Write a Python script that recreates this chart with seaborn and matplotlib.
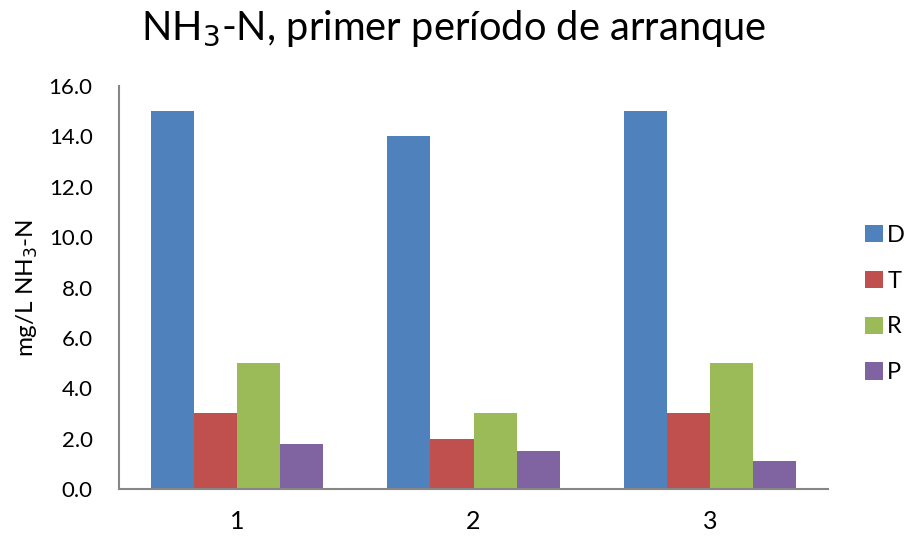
import matplotlib
matplotlib.use("Agg")
import matplotlib.pyplot as plt
import seaborn as sns
import pandas as pd

periods = ["1", "2", "3"]
series = ["D", "T", "R", "P"]
values_D = [15.0, 14.0, 15.0]
values_T = [3.0, 2.0, 3.0]
values_R = [5.0, 3.0, 5.0]
values_P = [1.8, 1.5, 1.1]
colors = ["#4F81BD", "#C0504D", "#9BBB59", "#8064A2"]
y_ticks = [0, 2, 4, 6, 8, 10, 12, 14, 16]

rows = []
for name, vals in zip(series, [values_D, values_T, values_R, values_P]):
    for p, v in zip(periods, vals):
        rows.append({"periodo": p, "serie": name, "valor": v})
df = pd.DataFrame(rows)

sns.set_theme(style="white")
plt.rcParams["font.family"] = ["Lato", "DejaVu Sans"]
plt.rcParams["text.color"] = "black"
plt.rcParams["xtick.color"] = "black"
plt.rcParams["ytick.color"] = "black"
plt.rcParams["axes.labelcolor"] = "black"

fig = plt.figure(figsize=(9.07, 5.39), dpi=100)
ax = fig.add_axes([119 / 907, 1 - 489 / 539, (828 - 119) / 907, (489 - 86) / 539])

sns.barplot(data=df, x="periodo", y="valor", hue="serie", palette=colors,
            order=periods, hue_order=series, width=0.73, ax=ax,
            saturation=1, edgecolor="none", errorbar=None)

ax.set_ylim(0, 16)
ax.set_xlim(-0.5, 2.5)
ax.set_yticks(y_ticks)
ax.set_yticklabels([f"{t:.1f}" for t in y_ticks], fontsize=16)
ax.tick_params(axis="x", labelsize=18, length=0, pad=15)
ax.tick_params(axis="y", length=0, pad=19)
ax.set_xlabel("")
ax.set_ylabel("mg/L NH$_3$-N", fontsize=17.5, labelpad=6)

for side in ["top", "right"]:
    ax.spines[side].set_visible(False)
for side in ["left", "bottom"]:
    ax.spines[side].set_color("#868686")
    ax.spines[side].set_linewidth(1.5)

handles, labels = ax.get_legend_handles_labels()
ax.legend(handles, labels, loc="center left", bbox_to_anchor=(1.052, 0.459),
          frameon=False, fontsize=17, handlelength=0.75, handleheight=0.75,
          labelspacing=1.05, handletextpad=0.2, borderpad=0, borderaxespad=0)

fig.suptitle("NH$_3$-N, primer período de arranque", fontsize=28.7, y=0.985)

fig.savefig("out.png", dpi=100)
